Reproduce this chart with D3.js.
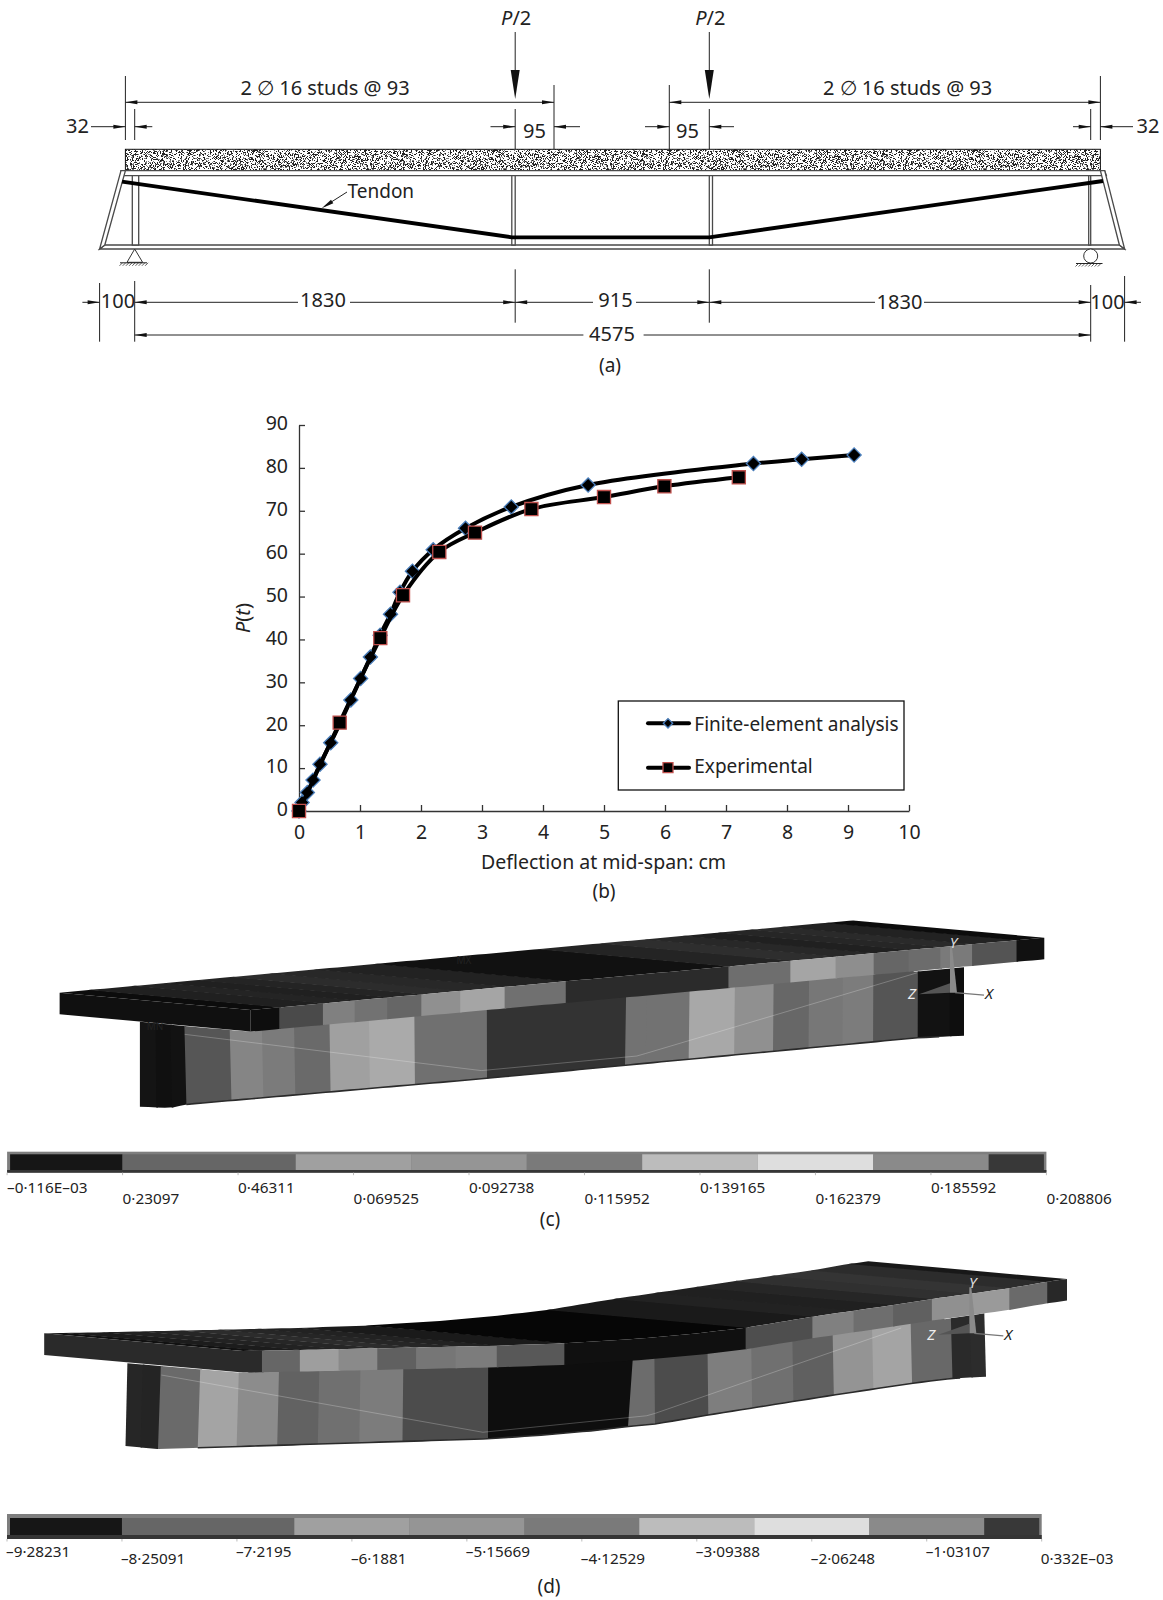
<!DOCTYPE html>
<html lang="en">
<head>
<meta charset="UTF-8">
<title>Composite beam: layout, load-deflection curve, contour plots</title>
<script src="https://d3js.org/d3.v7.min.js"></script>
<style>
    body { margin: 0; background: #fff; }
    svg { display: block; }
    text { font-family: "Noto Sans", "Open Sans", sans-serif; fill: #222; }
    .axis path, .axis line { stroke: #333; stroke-width: 1.3; }
    .axis text { font-family: "Noto Sans", "Open Sans", sans-serif; font-size: 19.5px; fill: #222; }
</style>
</head>
<body>
<svg id="fig" width="1163" height="1600"></svg>
<script>
// (b) load-deflection readings
const feDeflection = [0, 0.05, 0.137, 0.23, 0.344, 0.52, 0.85, 1.01, 1.17, 1.33, 1.5, 1.656, 1.86, 2.2, 2.73, 3.48, 4.74, 7.45, 8.24, 9.1];
const feLoad = [0, 2, 4.3, 7.2, 10.9, 15.9, 25.9, 30.9, 35.9, 41, 45.9, 51, 55.9, 60.9, 65.9, 70.9, 76, 81, 82, 83];
const expDeflection = [0, 0.667, 1.333, 1.705, 2.3, 2.885, 3.81, 5.0, 5.99, 7.21];
const expLoad = [0, 20.6, 40.3, 50.3, 60.4, 64.9, 70.4, 73.2, 75.7, 77.8];
const xTicks = [0, 1, 2, 3, 4, 5, 6, 7, 8, 9, 10];
const yTicks = [0, 10, 20, 30, 40, 50, 60, 70, 80, 90];
const seriesNames = ["Finite-element analysis", "Experimental"];

// (a) dimensions, mm
const spanDims = [1830, 915, 1830];
const overhang = 100, endStud = 32, pastLoad = 95;
const spanTotal = 4575;

// (c) (d) contour legends
const legendLabelsC = ["–0·116E–03", "0·23097", "0·46311", "0·069525", "0·092738", "0·115952", "0·139165", "0·162379", "0·185592", "0·208806"];
const legendLabelsD = ["–9·28231", "–8·25091", "–7·2195", "–6·1881", "–5·15669", "–4·12529", "–3·09388", "–2·06248", "–1·03107", "0·332E–03"];
const contourEdges = [0, 1, 2.5, 3.5, 4.5, 5.5, 6.5, 7.5, 8.5, 9];
const contourShades = [22, 102, 160, 149, 122, 188, 222, 138, 56];

// (c) deformed shape contour, % along member and grey level
const flangeStationsC = [0, 3.6, 9.1, 13.1, 17.2, 21.5, 26.4, 32.0, 39.7, 60.2, 68.0, 73.7, 78.5, 82.9, 86.9, 90.9, 96.5, 100];
const flangeSideC = [14, 74, 128, 114, 102, 144, 165, 112, 43, 110, 165, 142, 102, 108, 122, 84, 17];
const flangeTopC = [12, 32, 36, 32, 36, 44, 40, 34, 17, 36, 46, 40, 32, 38, 42, 34, 12];
const webStationsC = [0, 1.9, 3.7, 5.4, 10.9, 14.8, 18.7, 23.0, 27.8, 33.3, 42.1, 59.0, 61.5, 66.7, 72.2, 76.9, 81.2, 85.3, 89.0, 94.4, 98.3, 100];
const webShadesC = [20, 16, 18, 86, 133, 123, 106, 160, 170, 112, 51, 114, 114, 168, 144, 103, 119, 124, 85, 18, 14];

// (d) same for the other contour
const flangeStationsD = [0, 2.3, 6.9, 11.6, 16.3, 21.0, 25.8, 30.8, 39.0, 61.0, 69.1, 74.1, 78.9, 83.6, 88.2, 93.0, 97.6, 100];
const flangeSideD = [42, 102, 158, 138, 96, 118, 124, 88, 16, 78, 128, 110, 96, 144, 154, 106, 40];
const flangeTopD = [17, 28, 34, 38, 44, 38, 34, 26, 6, 26, 34, 32, 38, 48, 52, 44, 24];
const webStationsD = [0, 1.8, 3.9, 8.5, 13.0, 17.7, 22.4, 27.2, 32.2, 42.1, 59.0, 61.5, 67.7, 72.8, 77.6, 82.3, 86.9, 91.4, 96.1, 98.3, 100];
const webShadesD = [38, 36, 106, 164, 140, 98, 112, 124, 76, 14, 108, 76, 126, 112, 96, 148, 164, 104, 42, 44];

// tendon profile: % along member, depth fraction of the web
const tendonC = [[5.4, 0.106], [41.4, 0.88], [60.4, 0.88], [61.5, 0.854], [94.3, 0.02]];
const tendonD = [[4, 0.108], [41.5, 0.906], [60.7, 0.86], [61.5, 0.835], [90.3, 0.02]];

const svg = d3.select("#fig");
const grey = v => d3.rgb(v, v, v).formatHex();
const line = d3.line();

function addText(g, x, y, str, size, anchor) {
    return g.append("text").attr("x", x).attr("y", y).attr("font-size", size)
        .attr("text-anchor", anchor || "middle").text(str);
}

/* ---------- (a) beam layout ---------- */
const gA = svg.append("g");
const xA = d3.scaleLinear()
    .domain([-overhang, -endStud, 0, 1830, 1830 + pastLoad, 2745 - pastLoad, 2745, spanTotal, spanTotal + endStud, spanTotal + overhang])
    .range([99.6, 125.4, 134.7, 515.2, 554, 669.3, 709.3, 1090.7, 1100.4, 1124.6]);

function vline(x, y1, y2) {
    gA.append("line").attr("x1", x).attr("x2", x).attr("y1", y1).attr("y2", y2)
        .attr("stroke", "#222").attr("stroke-width", 1);
}
function hline(x1, x2, y) {
    gA.append("line").attr("x1", x1).attr("x2", x2).attr("y1", y).attr("y2", y)
        .attr("stroke", "#222").attr("stroke-width", 1);
}
// small dimension arrow head, tip at x, dir = +1 points right
function head(x, y, dir) {
    gA.append("path").attr("d", line([[x, y], [x - dir * 12, y - 2], [x - dir * 12, y + 2]])).attr("fill", "#111");
}
function dim(x1, x2, y, from, to) {
    // from/to: which ends have a head
    hline(x1, x2, y);
    if (from) head(x1, y, -1);
    if (to) head(x2, y, 1);
}
// concrete speckle, just a texture for the slab
const tileW = 240, tileH = 21;
const pattern = svg.append("defs").append("pattern").attr("id", "concrete").attr("patternUnits", "userSpaceOnUse")
    .attr("width", tileW).attr("height", tileH);
pattern.append("rect").attr("width", tileW).attr("height", tileH).attr("fill", "#fff");
let seed = 12345;
function nextSeed(n) {
    seed = (Math.imul(seed, 1103515245) + 12345) & 0x7fffffff;
    return (seed >>> 12) % n;
}
d3.range(tileW * tileH * 0.5).forEach(() => {
    const px = nextSeed(tileW), py = nextSeed(tileH), shade = nextSeed(3);
    pattern.append("rect").attr("x", px).attr("y", py).attr("width", 1).attr("height", 1)
        .attr("fill", shade ? "#222" : "#777");
});

const slabTop = 149.3, slabBottom = 170.7, flangeIn = 175.7, botIn = 245, botOut = 249;

// loads
[1830, 2745].forEach(m => {
    const x = xA(m);
    vline(x, 32, 75);
    gA.append("path").attr("d", line([[x, 99], [x - 4.5, 70], [x + 4.5, 70]])).attr("fill", "#111");
    const t = gA.append("text").attr("x", x + 1).attr("y", 25).attr("font-size", 20).attr("text-anchor", "middle");
    t.append("tspan").attr("font-style", "italic").text("P");
    t.append("tspan").text("/2");
});
// stud spacing
const studY = 102.3, offY = 126.7;
dim(xA(-endStud), xA(1830 + pastLoad), studY, true, true);
dim(xA(2745 - pastLoad), xA(spanTotal + endStud), studY, true, true);
addText(gA, 325, 95, "2 ∅ 16 studs @ 93", 20);
addText(gA, 907.6, 95, "2 ∅ 16 studs @ 93", 20);
vline(xA(-endStud), 76, 140);
vline(xA(0), 109, 140);
vline(xA(spanTotal + endStud), 76, 140);
vline(xA(spanTotal), 109, 140);
vline(xA(1830), 109, slabTop);
vline(xA(1830 + pastLoad), 85, slabTop);
vline(xA(2745), 109, slabTop);
vline(xA(2745 - pastLoad), 85, slabTop);

hline(91, xA(-endStud), offY); head(xA(-endStud), offY, 1);
hline(xA(0), 152.3, offY); head(xA(0), offY, -1);
hline(490.5, xA(1830), offY); head(xA(1830), offY, 1);
hline(xA(1830 + pastLoad), 580, offY); head(xA(1830 + pastLoad), offY, -1);
hline(645, xA(2745 - pastLoad), offY); head(xA(2745 - pastLoad), offY, 1);
hline(xA(2745), 734, offY); head(xA(2745), offY, -1);
hline(1073, xA(spanTotal), offY); head(xA(spanTotal), offY, 1);
hline(xA(spanTotal + endStud), 1133, offY); head(xA(spanTotal + endStud), offY, -1);
addText(gA, 77.5, 133, String(endStud), 20);
addText(gA, 1148, 133, String(endStud), 20);
addText(gA, 534.5, 138, String(pastLoad), 20);
addText(gA, 687.5, 138, String(pastLoad), 20);

// slab
gA.append("rect").attr("x", xA(-endStud)).attr("y", slabTop)
    .attr("width", xA(spanTotal + endStud) - xA(-endStud)).attr("height", slabBottom - slabTop)
    .attr("fill", "url(#concrete)").attr("stroke", "#111").attr("stroke-width", 1);
// steel outline
const beamStroke = { fill: "#fff", stroke: "#4a4a4a", w: 1.3 };
function steel(points) {
    gA.append("path").attr("d", line(points) + "Z").attr("fill", beamStroke.fill)
        .attr("stroke", beamStroke.stroke).attr("stroke-width", beamStroke.w);
}
steel([[xA(-overhang), botOut], [xA(-overhang) + 5.2, botIn], [xA(spanTotal + overhang) - 5.2, botIn], [xA(spanTotal + overhang), botOut]]);
steel([[121, slabBottom], [xA(spanTotal + endStud) + 4.2, slabBottom], [xA(spanTotal + endStud) + 6, flangeIn], [121, flangeIn]]);
steel([[xA(-overhang), botOut], [121, slabBottom], [125.4, slabBottom], [xA(-overhang) + 5.2, botIn]]);
steel([[xA(spanTotal + overhang), botOut], [1104.7, slabBottom], [1100.4, slabBottom], [xA(spanTotal + overhang) - 5.2, botIn]]);
[[0, 4], [1830, -3.4], [2745, 3.2], [spanTotal, -2]].forEach(([m, w]) => {
    const x0 = xA(m), x1 = x0 + w;
    steel([[x0 - (m === 0 ? 2.4 : 0), flangeIn], [x1, flangeIn], [x1, botIn], [x0 - (m === 0 ? 2.4 : 0), botIn]]);
});
// tendon
gA.append("path").attr("d", line([[122, 181.7], [xA(1830) - 3.4, 237.3], [xA(2745), 237.3], [1103, 181]]))
    .attr("fill", "none").attr("stroke", "#000").attr("stroke-width", 3.8);
gA.append("line").attr("x1", 347).attr("y1", 192).attr("x2", 325).attr("y2", 206).attr("stroke", "#222");
gA.append("path").attr("d", line([[321.7, 208.3], [331, 199.8], [333.3, 203.2]])).attr("fill", "#111");
addText(gA, 347.5, 198, "Tendon", 19, "start");

// supports
function ground(x1, x2, y) {
    hline(x1, x2, y);
    d3.range(x1 + 1, x2, 3.2).forEach(x => {
        gA.append("line").attr("x1", x + 1.5).attr("y1", y).attr("x2", x - 1.5).attr("y2", y + 3)
            .attr("stroke", "#333").attr("stroke-width", 0.8);
    });
}
gA.append("path").attr("d", line([[xA(0), botOut], [127, 262.3], [142.6, 262.3]]) + "Z").attr("fill", "#fff").attr("stroke", "#333");
ground(120, 147, 262.8);
gA.append("circle").attr("cx", xA(spanTotal)).attr("cy", 256).attr("r", 7).attr("fill", "#fff").attr("stroke", "#333");
ground(1076, 1102.5, 263.5);

// bottom dimensions
const dimY = 302.3, totalY = 335;
vline(xA(-overhang), 283, 341.7);
vline(xA(0), 281, 341.7);
vline(xA(1830), 269.3, 322.7);
vline(xA(2745), 269.3, 322.7);
vline(xA(spanTotal), 285, 341.7);
vline(xA(spanTotal + overhang), 276, 341.7);
hline(82.4, xA(-overhang), dimY); head(xA(-overhang), dimY, 1);
hline(xA(spanTotal + overhang), 1141, dimY); head(xA(spanTotal + overhang), dimY, -1);
addText(gA, 118, 308, String(overhang), 20);
addText(gA, 1107.5, 308.7, String(overhang), 20);
hline(xA(0), 298, dimY); head(xA(0), dimY, -1);
hline(350, xA(1830), dimY); head(xA(1830), dimY, 1);
addText(gA, 323, 306.7, String(spanDims[0]), 20);
hline(xA(1830), 593, dimY); head(xA(1830), dimY, -1);
hline(636, xA(2745), dimY); head(xA(2745), dimY, 1);
addText(gA, 615.5, 306.7, String(spanDims[1]), 20);
hline(xA(2745), 875, dimY); head(xA(2745), dimY, -1);
hline(924, xA(spanTotal), dimY); head(xA(spanTotal), dimY, 1);
addText(gA, 899.5, 308.7, String(spanDims[2]), 20);
hline(xA(0), 583.4, totalY); head(xA(0), totalY, -1);
hline(643.6, xA(spanTotal), totalY); head(xA(spanTotal), totalY, 1);
addText(gA, 612, 340.7, String(spanTotal), 20);
addText(gA, 610, 372, "(a)", 19);

/* ---------- (b) load-deflection ---------- */
const gB = svg.append("g");
const x = d3.scaleLinear().domain([0, 10]).range([299, 909]);
const y = d3.scaleLinear().domain([0, 90]).range([811, 425]);

gB.append("g").attr("class", "axis").attr("transform", "translate(0,811)")
    .call(d3.axisBottom(x).tickValues(xTicks).tickFormat(d3.format("d")).tickSizeInner(-6).tickSizeOuter(0).tickPadding(14));
gB.append("g").attr("class", "axis").attr("transform", "translate(299,0)")
    .call(d3.axisLeft(y).tickValues(yTicks).tickFormat(d3.format("d")).tickSizeInner(-6).tickSizeOuter(0).tickPadding(11))
    .selectAll("text").attr("dy", "0.25em");

const curve = d3.line().x(d => x(d[0])).y(d => y(d[1])).curve(d3.curveCatmullRom.alpha(0.5));
const fePts = d3.zip(feDeflection, feLoad);
const expPts = d3.zip(expDeflection, expLoad);
const diamond = d3.symbol().type(d3.symbolSquare).size(100);
const square = d3.symbol().type(d3.symbolSquare).size(172);

function drawSeries(pts, sym, edge, rotate) {
    gB.append("path").attr("d", curve(pts)).attr("fill", "none").attr("stroke", "#000").attr("stroke-width", 4);
    gB.selectAll(null).data(pts).join("path").attr("d", sym())
        .attr("transform", d => `translate(${x(d[0])},${y(d[1])}) rotate(${rotate})`)
        .attr("fill", "#000").attr("stroke", edge).attr("stroke-width", 1.3);
}
drawSeries(fePts, diamond, "#4a7ebb", 45);
drawSeries(expPts, square, "#c0504d", 0);

const yLabel = gB.append("text").attr("transform", "translate(250,618) rotate(-90)")
    .attr("font-size", 20).attr("text-anchor", "middle");
yLabel.append("tspan").attr("font-style", "italic").text("P");
yLabel.append("tspan").text("(");
yLabel.append("tspan").attr("font-style", "italic").text("t");
yLabel.append("tspan").text(")");
addText(gB, 603.5, 869, "Deflection at mid-span: cm", 19.5);
addText(gB, 604, 898, "(b)", 19);

gB.append("rect").attr("x", 618.3).attr("y", 701).attr("width", 285.7).attr("height", 89)
    .attr("fill", "#fff").attr("stroke", "#111").attr("stroke-width", 1.3);
const legendDiamond = d3.symbol().type(d3.symbolSquare).size(44);
const legendSquare = d3.symbol().type(d3.symbolSquare).size(100);
[[723.3, legendDiamond, "#4a7ebb", 45, 731], [767.7, legendSquare, "#c0504d", 0, 773.3]].forEach(([ly, sym, edge, rot, base], i) => {
    gB.append("line").attr("x1", 648).attr("x2", 689).attr("y1", ly).attr("y2", ly)
        .attr("stroke", "#000").attr("stroke-width", 4).attr("stroke-linecap", "round");
    gB.append("path").attr("d", sym())
        .attr("transform", `translate(668,${ly}) rotate(${rot})`)
        .attr("fill", "#000").attr("stroke", edge).attr("stroke-width", 1.3);
    addText(gB, 694.3, base, seriesNames[i], 19, "start");
});

/* ---------- (c) (d) contour plots ---------- */
function drawBeam(cfg) {
    const g = svg.append("g");
    const fx = d3.scaleLinear().domain([0, 100]).range(cfg.flangeX);
    const fy = d3.scaleLinear().domain(cfg.frontPct).range(cfg.frontY);
    const front = p => [fx(p), fy(p)];
    const back = p => [fx(p) + cfg.depth[0], fy(p) + cfg.depth[1]];
    const under = p => [fx(p), fy(p) + cfg.thick];
    const steps = (a, b) => d3.range(a, b, 1).concat([b]);

    // top face, each piece overlaps the next one so no seam shows
    cfg.flangeStations.slice(1).forEach((s, i) => {
        const s0 = cfg.flangeStations[i];
        const end = i === cfg.flangeTop.length - 1 ? s : s + 0.4;
        const pts = steps(s0, end).map(front).concat(steps(s0, end).reverse().map(back));
        g.append("path").attr("d", line(pts) + "Z").attr("fill", grey(cfg.flangeTop[i]));
    });

    // web, its top runs a little up behind the flange side
    const wxT = d3.scaleLinear().domain([0, 100]).range(cfg.webTopX);
    const wxB = d3.scaleLinear().domain(cfg.webBotPct).range(cfg.webBotX);
    const wyT = d3.scaleLinear().domain(cfg.webTopPct).range(cfg.webTopY);
    const wyB = d3.scaleLinear().domain(cfg.webBotYPct).range(cfg.webBotY);
    const wTop = p => [wxT(p), wyT(p)];
    const wBot = p => [wxB(p), wyB(p)];
    const wHidden = p => [wxT(p), wyT(p) - (p > cfg.coverFrom && p < cfg.coverTo ? 5 : 0)];
    cfg.webStations.slice(1).forEach((s, i) => {
        const s0 = cfg.webStations[i];
        const end = i === cfg.webShades.length - 1 ? s : s + 0.2;
        const pts = steps(s0, end).map(wHidden).concat(steps(s0, end).reverse().map(wBot));
        g.append("path").attr("d", line(pts) + "Z").attr("fill", grey(cfg.webShades[i]));
    });
    // bottom flange lip
    g.append("path").attr("d", line(steps(cfg.webStations[3], 97).map(wBot))).attr("fill", "none")
        .attr("stroke", "#2a2a2a").attr("stroke-width", 1.6);
    // tendon
    const tPts = cfg.tendon.map(([p, f]) => {
        const a = wTop(p), b = wBot(p);
        return [a[0] + (b[0] - a[0]) * f, a[1] + (b[1] - a[1]) * f];
    });
    g.append("path").attr("d", line(tPts)).attr("fill", "none")
        .attr("stroke", "rgba(255,255,255,0.24)").attr("stroke-width", 1);

    // flange end + side
    const endPts = [back(0), front(0), under(0), [back(0)[0], back(0)[1] + cfg.thick]];
    g.append("path").attr("d", line(endPts) + "Z").attr("fill", grey(cfg.endShade));
    cfg.flangeStations.slice(1).forEach((s, i) => {
        const s0 = cfg.flangeStations[i];
        const end = i === cfg.flangeSide.length - 1 ? s : s + 0.2;
        const pts = steps(s0, end).map(front).concat(steps(s0, end).reverse().map(under));
        g.append("path").attr("d", line(pts) + "Z").attr("fill", grey(cfg.flangeSide[i]));
    });

    // axis triad
    const [ox, oy] = cfg.origin;
    g.append("path").attr("d", line([[ox, oy - 46], [ox + 2, oy - 46], [ox + 7, oy], [ox, oy]]) + "Z")
        .attr("fill", "#8a8a8a");
    g.append("path").attr("d", line([[ox - 31, oy + 1.5], [ox, oy - 9.5], [ox, oy]]) + "Z").attr("fill", "#555");
    g.append("line").attr("x1", ox + 5).attr("y1", oy).attr("x2", ox + 34).attr("y2", oy + 2.5)
        .attr("stroke", "#777").attr("stroke-width", 1.2);
    addText(g, ox + 3.5, oy - 45, "Y", 15).attr("font-style", "italic").style("fill", "#ddd");
    addText(g, ox - 38, oy + 6.5, "Z", 15).attr("font-style", "italic").style("fill", "#eee");
    addText(g, ox + 39, oy + 6.5, "X", 15).attr("font-style", "italic");
    (cfg.marks || []).forEach(([mx, my, str]) => {
        addText(g, mx, my, str, 10).style("fill", "#222");
    });
}

function drawLegend(cfg) {
    const g = svg.append("g");
    const lx = d3.scaleLinear().domain([0, 9]).range([cfg.x0, cfg.x1]);
    g.append("rect").attr("x", cfg.x0).attr("y", cfg.outer[0]).attr("width", cfg.x1 - cfg.x0).attr("height", cfg.outer[1] - cfg.outer[0]).attr("fill", "#7e7e7e");
    g.append("rect").attr("x", cfg.x0).attr("y", cfg.inner[1]).attr("width", cfg.x1 - cfg.x0).attr("height", cfg.outer[1] - cfg.inner[1]).attr("fill", "#353535");
    contourShades.forEach((v, i) => {
        const a = i === 0 ? lx(0) + 3 : lx(contourEdges[i]);
        const b = i === contourShades.length - 1 ? lx(9) - 2.5 : lx(contourEdges[i + 1]);
        g.append("rect").attr("x", a).attr("y", cfg.inner[0]).attr("width", b - a).attr("height", cfg.inner[1] - cfg.inner[0]).attr("fill", grey(v));
    });
    cfg.labels.forEach((str, i) => {
        g.append("line").attr("x1", lx(i)).attr("x2", lx(i)).attr("y1", cfg.outer[1]).attr("y2", cfg.outer[1] + 2.5)
            .attr("stroke", "#bbb");
        addText(g, lx(i) + cfg.labelDx, cfg.baseline[i % 2], str, 15.3, "start");
    });
}

drawBeam({
    flangeX: [250.7, 1044.3], frontPct: [0, 100], frontY: [1010, 937.7], depth: [-191.1, -17.3], thick: 21.6,
    flangeStations: flangeStationsC, flangeSide: flangeSideC, flangeTop: flangeTopC, endShade: 16,
    webTopX: [139.9, 964], webBotPct: [0, 5.4, 42.1, 59, 100], webBotX: [139.9, 186.4, 487, 625, 964],
    webTopPct: [0, 5.4, 13.4, 42.1, 100], webTopY: [1021.7, 1026, 1031.7, 1010, 967.3],
    webBotYPct: [0, 3.5, 5.5, 42.1, 61.5, 94.4, 100], webBotY: [1106.7, 1108, 1104.3, 1078.3, 1063.3, 1037.7, 1035.7],
    coverFrom: 14, coverTo: 94,
    webStations: webStationsC, webShades: webShadesC, tendon: tendonC,
    origin: [950, 992.7], marks: [[155, 1030, "MN"], [464, 964, "MX"]]
});
drawLegend({ x0: 7.1, x1: 1046.4, outer: [1151.7, 1172.7], inner: [1154.3, 1170], labels: legendLabelsC, labelDx: 0, baseline: [1193.3, 1204] });
addText(svg, 550, 1226, "(c)", 19);

drawBeam({
    flangeX: [243, 1067],
    frontPct: [0, 6.9, 30.8, 39, 48.2, 55, 61, 69.1, 78.9, 83.6, 93, 97.6, 100],
    frontY: [1351, 1350, 1345.7, 1343.3, 1338.5, 1333.5, 1327.7, 1316.7, 1305, 1299, 1288.3, 1281.7, 1279],
    depth: [-198.8, -17.7], thick: 21.6,
    flangeStations: flangeStationsD, flangeSide: flangeSideD, flangeTop: flangeTopD, endShade: 42,
    webTopX: [127.4, 984.3], webBotPct: [0, 3.9, 42.1, 59, 61.5, 100], webBotX: [125.5, 158, 488, 628, 655, 986],
    webTopPct: [0, 3.9, 13.5, 42.1, 59, 61.5, 67.7, 72.8, 86.9, 91.4, 96.1, 100],
    webTopY: [1363.3, 1366, 1373, 1367.6, 1361, 1360, 1354.3, 1349, 1332.3, 1325, 1318.3, 1313.3],
    webBotYPct: [0, 3.9, 42.1, 48.7, 55, 61.5, 67.7, 82.3, 91.4, 96.1, 100],
    webBotY: [1446, 1449, 1438.8, 1435, 1430.5, 1424, 1415, 1395, 1383.3, 1378.3, 1376.7],
    coverFrom: 14, coverTo: 95,
    webStations: webStationsD, webShades: webShadesD, tendon: tendonD,
    origin: [969.3, 1333.3]
});
drawLegend({ x0: 7, x1: 1041.7, outer: [1514, 1539], inner: [1518, 1535], labels: legendLabelsD, labelDx: -1, baseline: [1557.3, 1564] });
addText(svg, 549, 1593, "(d)", 19);
</script>
</body>
</html>
